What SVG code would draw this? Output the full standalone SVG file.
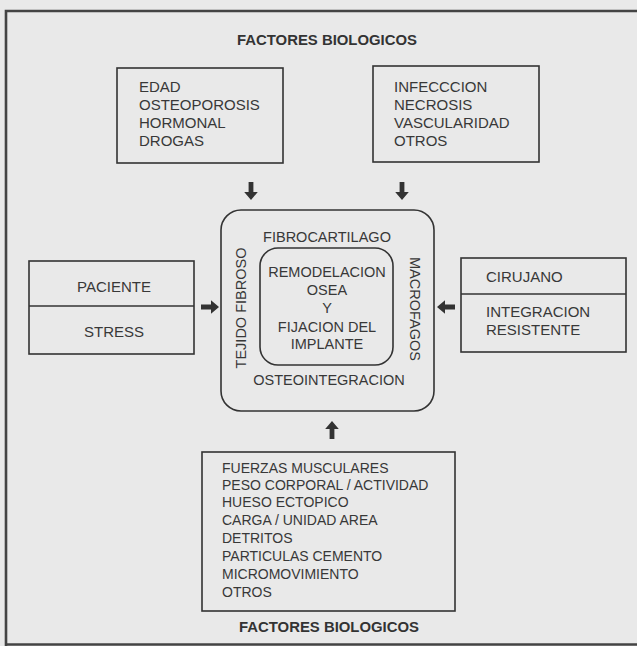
<svg xmlns="http://www.w3.org/2000/svg" width="637" height="646" viewBox="0 0 637 646">
<style>
.t{font-family:"Liberation Sans",Arial,sans-serif;font-size:15px;fill:#383838}
.m{font-size:14.5px}
.s{font-size:14px}
.h{font-family:"Liberation Sans",Arial,sans-serif;font-size:14px;font-weight:bold;fill:#333}
.c{text-anchor:middle}
.box{fill:none;stroke:#333;stroke-width:1.6}
.frame{fill:none;stroke:#444;stroke-width:2.6}
.arr{fill:#333;stroke:none}
</style>
<defs>
<path id="arrDown" d="M-2.4,-18 L2.4,-18 L2.4,-8 L6.8,-8 L0,0 L-6.8,-8 L-2.4,-8 Z"/>
</defs>
<rect width="637" height="646" fill="#e9e9e9"/>
<path class="frame" d="M637,11 L6,11 L6,646 M6,644.5 L637,644.5"/>

<text class="h c" x="327" y="45" textLength="180" lengthAdjust="spacingAndGlyphs">FACTORES BIOLOGICOS</text>

<g id="biol1">
<rect class="box" x="117" y="68" width="166" height="95"/>
<text class="t" x="139" y="92">EDAD</text>
<text class="t" x="139" y="110">OSTEOPOROSIS</text>
<text class="t" x="139" y="128">HORMONAL</text>
<text class="t" x="139" y="146">DROGAS</text>
</g>

<g id="biol2">
<rect class="box" x="373" y="66" width="166" height="96"/>
<text class="t" x="394" y="92">INFECCCION</text>
<text class="t" x="394" y="110">NECROSIS</text>
<text class="t" x="394" y="128">VASCULARIDAD</text>
<text class="t" x="394" y="146">OTROS</text>
</g>

<g id="paciente">
<rect class="box" x="29" y="261" width="165" height="93"/>
<line class="box" x1="29" y1="306" x2="194" y2="306"/>
<text class="t c" x="114" y="292">PACIENTE</text>
<text class="t c" x="114" y="337">STRESS</text>
</g>

<g id="cirujano">
<rect class="box" x="461" y="258" width="165" height="94"/>
<line class="box" x1="461" y1="294" x2="626" y2="294"/>
<text class="t" x="486" y="282">CIRUJANO</text>
<text class="t" x="486" y="317">INTEGRACION</text>
<text class="t" x="486" y="335">RESISTENTE</text>
</g>

<g id="interfase">
<rect class="box" x="221" y="210" width="213" height="201" rx="20"/>
<text class="t m c" x="327" y="242">FIBROCARTILAGO</text>
<text class="t m c" x="329" y="385">OSTEOINTEGRACION</text>
<text class="t m c" transform="translate(246,308) rotate(-90)">TEJIDO FIBROSO</text>
<text class="t m c" transform="translate(410,309) rotate(90)">MACROFAGOS</text>
</g>

<g id="remodelacion">
<rect class="box" x="260" y="248" width="133" height="117" rx="18"/>
<text class="t m c" x="327" y="277">REMODELACION</text>
<text class="t m c" x="327" y="295">OSEA</text>
<text class="t m c" x="327" y="313">Y</text>
<text class="t m c" x="327" y="332">FIJACION DEL</text>
<text class="t m c" x="327" y="349">IMPLANTE</text>
</g>

<g id="mecanicos">
<rect class="box" x="202" y="452" width="253" height="159"/>
<text class="t s" x="222" y="473">FUERZAS MUSCULARES</text>
<text class="t s" x="222" y="490">PESO CORPORAL / ACTIVIDAD</text>
<text class="t s" x="222" y="507">HUESO ECTOPICO</text>
<text class="t s" x="222" y="525">CARGA / UNIDAD AREA</text>
<text class="t s" x="222" y="543">DETRITOS</text>
<text class="t s" x="222" y="561">PARTICULAS CEMENTO</text>
<text class="t s" x="222" y="579">MICROMOVIMIENTO</text>
<text class="t s" x="222" y="597">OTROS</text>
</g>

<text class="h c" x="329" y="632" textLength="180" lengthAdjust="spacingAndGlyphs">FACTORES BIOLOGICOS</text>

<g id="connectors">
<use href="#arrDown" class="arr" transform="translate(251,200)"/>
<use href="#arrDown" class="arr" transform="translate(402,200)"/>
<use href="#arrDown" class="arr" transform="translate(219,307) rotate(-90)"/>
<use href="#arrDown" class="arr" transform="translate(437,307) rotate(90)"/>
<use href="#arrDown" class="arr" transform="translate(332,421) rotate(180)"/>
</g>
</svg>
